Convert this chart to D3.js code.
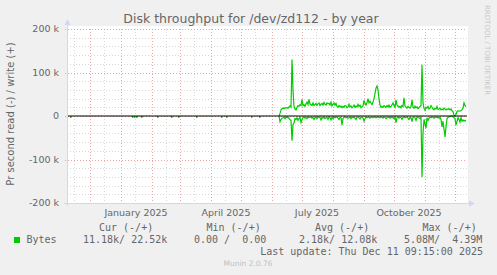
<!DOCTYPE html>
<html>
<head>
<meta charset="utf-8">
<script src="https://cdn.jsdelivr.net/npm/d3@7"></script>
<style>
  body { margin: 0; background: #f0f0f0; }
  text { font-family: 'DejaVu Sans', sans-serif; fill: #666; }
  .mono { font-family: 'DejaVu Sans Mono', monospace; white-space: pre; }
</style>
</head>
<body>
<svg id="chart" width="497" height="275"></svg>
<script>
// daily values in k, first value on startDate
var startDate = '2025-06-08'
var writeK = [
  0, 6, 14, 17, 18, 17, 19, 18, 19, 18,
  21, 23, 20, 130, 60, 22, 16, 14, 20, 24,
  22, 26, 24, 38, 24, 26, 22, 28, 32, 26,
  38, 28, 26, 24, 30, 24, 26, 29, 24, 28,
  30, 24, 27, 29, 25, 31, 27, 25, 30, 28,
  29, 25, 32, 23, 27, 30, 25, 29, 22, 20,
  24, 21, 23, 19, 22, 20, 24, 23, 19, 21,
  27, 21, 23, 19, 21, 25, 20, 23, 21, 27,
  22, 25, 19, 21, 23, 36, 29, 25, 31, 40,
  30, 34, 30, 26, 32, 40, 52, 64, 69, 60,
  40, 25, 20, 22, 20, 24, 22, 20, 24, 21,
  25, 20, 22, 26, 30, 24, 20, 37, 25, 23,
  20, 22, 19, 24, 22, 42, 23, 20, 18, 22,
  20, 18, 22, 37, 20, 18, 23, 19, 21, 17,
  19, 22, 24, 118, 30, 18, 13, 20, 18, 22,
  16, 18, 24, 20, 16, 14, 18, 16, 22, 15,
  16, 18, 14, 16, 14, 18, 16, 14, 16, 15,
  17, 14, 16, 12, 10, 2, 0, 4, 10, 12,
  12, 11, 12, 14, 18, 30, 24, 22
]
var readK = [
  0, 13, 8, 5, 4, 3, 6, 2, 4, 3,
  5, 8, 10, 57, 20, 16, 6, 8, 4, 10,
  6, 3, 15, 8, 4, 2, 5, 3, 6, 2,
  4, 3, 2, 5, 3, 8, 4, 2, 6, 3,
  2, 4, 9, 3, 5, 2, 6, 4, 3, 8,
  2, 4, 9, 3, 6, 2, 4, 3, 2, 5,
  8, 3, 4, 21, 6, 3, 2, 4, 3, 5,
  4, 2, 6, 3, 4, 2, 5, 8, 3, 2,
  4, 7, 3, 2, 4, 12, 6, 2, 4, 3,
  2, 5, 3, 2, 4, 3, 2, 4, 3, 2,
  3, 4, 2, 3, 5, 2, 3, 6, 4, 2,
  3, 5, 2, 4, 3, 6, 2, 15, 4, 2,
  5, 3, 4, 8, 3, 2, 4, 3, 2, 5,
  8, 3, 4, 13, 3, 2, 4, 10, 3, 2,
  4, 6, 3, 140, 40, 8, 18, 28, 4, 10,
  5, 3, 4, 2, 3, 5, 3, 2, 4, 3,
  5, 3, 8, 25, 12, 30, 48, 25, 6, 3,
  2, 1, 0, 0, 2, 4, 6, 21, 12, 4,
  8, 14, 4, 12, 9, 12, 10, 12
]
// small read blips before the disk got busy
var earlyReadDates = ['2024-11-11', '2025-01-12', '2025-01-14', '2025-01-16', '2025-01-21', '2025-02-06',
  '2025-02-20', '2025-02-27', '2025-03-17', '2025-04-11', '2025-04-16', '2025-05-11', '2025-05-19']
var earlyReadK = [2, 2, 2, 2, 2, 2, 2, 2, 2, 2, 2, 2, 2]

var yTicks = [200, 100, 0, -100, -200]
var yTickLabels = ['200 k', '100 k', '0', '-100 k', '-200 k']
var xLabels = ['January 2025', 'April 2025', 'July 2025', 'October 2025']
var xLabelDates = ['2025-01-16', '2025-04-16', '2025-07-16', '2025-10-16']

var legendHead = ['Cur (-/+)', 'Min (-/+)', 'Avg (-/+)', 'Max (-/+)']
var legendVals = ['11.18k/ 22.52k', '0.00 /  0.00', '2.18k/ 12.08k', '5.08M/  4.39M']

var svg = d3.select('#chart'),
  plot = {left: 67, right: 467, top: 29, bottom: 203}

var parse = d3.utcParse('%Y-%m-%d')
var x = d3.scaleUtc()
  .domain([parse('2024-11-08'), parse('2025-12-13')])
  .range([plot.left, plot.right])
var y = d3.scaleLinear()
  .domain([-200, 200])
  .range([plot.bottom, plot.top])

var start = parse(startDate)
var series = writeK.map(function(v, i) {
  return { date: d3.utcDay.offset(start, i), w: v, r: readK[i] }
})

// canvas
svg.append('rect')
  .attr('x', plot.left).attr('y', plot.top - 3)
  .attr('width', plot.right - plot.left + 1).attr('height', plot.bottom - plot.top + 3)
  .attr('fill', '#fff')

var grid = svg.append('g')

// minor grid
var minorY = d3.range(-200, 201, 20).filter(function(d) { return d % 100 != 0 })
grid.selectAll('.hmin').data(minorY).enter().append('line')
  .attr('x1', plot.left).attr('x2', plot.right)
  .attr('y1', function(d) { return Math.round(y(d)) + 0.5 })
  .attr('y2', function(d) { return Math.round(y(d)) + 0.5 })
  .attr('stroke', '#d8d8d8').style('stroke-dasharray', '1,2')

var minorX = d3.utcMonth.range(parse('2024-11-01'), parse('2025-12-31')).map(function(d) {
  return d3.utcDay.offset(d, 14)
}).filter(function(d) { return x(d) > plot.left && x(d) < plot.right })
grid.selectAll('.vmin').data(minorX).enter().append('line')
  .attr('x1', function(d) { return Math.round(x(d)) + 0.5 })
  .attr('x2', function(d) { return Math.round(x(d)) + 0.5 })
  .attr('y1', plot.top).attr('y2', plot.bottom + 2)
  .attr('stroke', '#d8d8d8').style('stroke-dasharray', '1,2')

// major grid
grid.selectAll('.hmaj').data(yTicks).enter().append('line')
  .attr('x1', plot.left - 2).attr('x2', plot.right)
  .attr('y1', function(d) { return Math.round(y(d)) + 0.5 })
  .attr('y2', function(d) { return Math.round(y(d)) + 0.5 })
  .attr('stroke', '#eba5a5').style('stroke-dasharray', '1,2')

var majorX = d3.utcMonth.range(parse('2024-11-09'), parse('2025-12-13'))
grid.selectAll('.vmaj').data(majorX).enter().append('line')
  .attr('x1', function(d) { return Math.round(x(d)) + 0.5 })
  .attr('x2', function(d) { return Math.round(x(d)) + 0.5 })
  .attr('y1', plot.top).attr('y2', plot.bottom + 2)
  .attr('stroke', '#eba5a5').style('stroke-dasharray', '1,2')

// data
var green = '#00cc00'
svg.append('path')
  .datum(series)
  .attr('fill', 'none')
  .attr('stroke', green)
  .attr('stroke-width', 1.2)
  .attr('d', d3.line()
    .x(function(d) { return x(d.date) })
    .y(function(d) { return y(d.w) }))

svg.append('path')
  .datum(series)
  .attr('fill', 'none')
  .attr('stroke', green)
  .attr('stroke-width', 1.2)
  .attr('d', d3.line()
    .x(function(d) { return x(d.date) })
    .y(function(d) { return y(-d.r) }))

svg.append('g').selectAll('rect')
  .data(earlyReadDates)
  .enter().append('rect')
  .attr('x', function(d) { return x(parse(d)) })
  .attr('y', y(0))
  .attr('width', 1.5)
  .attr('height', function(d, i) { return y(-earlyReadK[i]) - y(0) + 1 })
  .attr('fill', green)

// zero line
svg.append('line')
  .attr('x1', plot.left).attr('x2', plot.right)
  .attr('y1', y(0)).attr('y2', y(0))
  .attr('stroke', '#000').attr('stroke-width', 1.2)

// axes
var axisCol = '#cfd6f8'
svg.append('line')
  .attr('x1', plot.left + 0.5).attr('x2', plot.left + 0.5)
  .attr('y1', plot.bottom + 3).attr('y2', plot.top - 6)
  .attr('stroke', axisCol)
svg.append('line')
  .attr('x1', plot.left - 3).attr('x2', plot.right + 4)
  .attr('y1', plot.bottom + 0.5).attr('y2', plot.bottom + 0.5)
  .attr('stroke', axisCol)
svg.append('path')
  .attr('d', 'M' + (plot.left - 2.5) + ',' + (plot.top - 4) + 'L' + (plot.left + 0.5) + ',' + (plot.top - 10) + 'L' + (plot.left + 3.5) + ',' + (plot.top - 4) + 'Z')
  .attr('fill', axisCol)
svg.append('path')
  .attr('d', 'M' + (plot.right + 2) + ',' + (plot.bottom - 2.5) + 'L' + (plot.right + 8) + ',' + (plot.bottom + 0.5) + 'L' + (plot.right + 2) + ',' + (plot.bottom + 3.5) + 'Z')
  .attr('fill', axisCol)

// tick labels
svg.append('g').selectAll('text')
  .data(yTicks)
  .enter().append('text')
  .attr('x', 59)
  .attr('y', function(d) { return y(d) })
  .attr('dy', '0.36em')
  .attr('text-anchor', 'end')
  .attr('font-size', 9.5)
  .text(function(d, i) { return yTickLabels[i] })

svg.append('g').selectAll('text')
  .data(xLabels)
  .enter().append('text')
  .attr('x', function(d, i) { return x(parse(xLabelDates[i])) })
  .attr('y', 216)
  .attr('text-anchor', 'middle')
  .attr('font-size', 9.5)
  .text(function(d) { return d })

// titles
svg.append('text')
  .attr('x', 251).attr('y', 23)
  .attr('text-anchor', 'middle')
  .attr('font-size', 12.5)
  .text('Disk throughput for /dev/zd112 - by year')

svg.append('text')
  .attr('transform', 'translate(14,114) rotate(-90)')
  .attr('text-anchor', 'middle')
  .attr('font-size', 10)
  .text('Pr second read (-) / write (+)')

svg.append('text')
  .attr('transform', 'translate(485,5) rotate(90)')
  .attr('text-anchor', 'start')
  .attr('font-size', 7)
  .style('fill', '#c8c8c8')
  .text('RRDTOOL / TOBI OETIKER')

// legend
var colX = [99, 206.5, 315, 422.5]
var valX = [83, 194, 299, 404]
svg.append('g').selectAll('text')
  .data(legendHead)
  .enter().append('text')
  .attr('class', 'mono')
  .attr('x', function(d, i) { return colX[i] })
  .attr('y', 231)
  .attr('font-size', 10)
  .text(function(d) { return d })

svg.append('rect')
  .attr('x', 14).attr('y', 237)
  .attr('width', 6).attr('height', 6)
  .attr('fill', green)
svg.append('text')
  .attr('class', 'mono')
  .attr('x', 26.5).attr('y', 243)
  .attr('font-size', 10)
  .text('Bytes')

svg.append('g').selectAll('text')
  .data(legendVals)
  .enter().append('text')
  .attr('class', 'mono')
  .attr('x', function(d, i) { return valX[i] })
  .attr('y', 243)
  .attr('font-size', 10)
  .text(function(d) { return d })

svg.append('text')
  .attr('class', 'mono')
  .attr('x', 483).attr('y', 255)
  .attr('text-anchor', 'end')
  .attr('font-size', 10)
  .text('Last update: Thu Dec 11 09:15:00 2025')

svg.append('text')
  .attr('x', 248).attr('y', 266)
  .attr('text-anchor', 'middle')
  .attr('font-size', 7.5)
  .style('fill', '#c0c0c0')
  .text('Munin 2.0.76')
</script>
</body>
</html>
